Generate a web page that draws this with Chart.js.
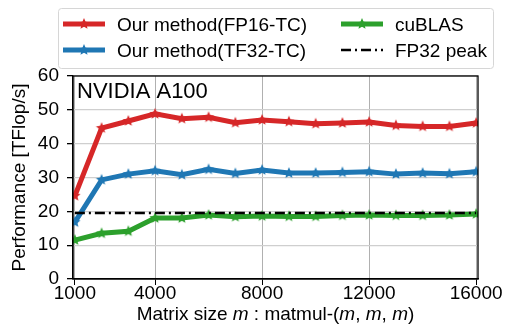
<!DOCTYPE html>
<html>
<head>
<meta charset="utf-8">
<script src="https://cdn.jsdelivr.net/npm/chart.js@4.4.1/dist/chart.umd.min.js"></script>
<style>
  html, body { margin: 0; padding: 0; background: #fff; }
  #wrap { width: 506px; height: 333px; }
</style>
</head>
<body>
<div id="wrap"><canvas id="perfChart" width="506" height="333"></canvas></div>
<script>
// matrix size m (matmul m x m x m)
const sizes = [1000, 2000, 3000, 4000, 5000, 6000, 7000, 8000, 9000, 10000, 11000, 12000, 13000, 14000, 15000, 16000];
// TFlop/s
const fp16tc = [24.6, 44.6, 46.7, 48.8, 47.4, 47.8, 46.2, 47.0, 46.5, 45.9, 46.1, 46.4, 45.4, 45.1, 45.1, 46.1];
const tf32tc = [16.8, 29.3, 31.0, 32.0, 30.8, 32.4, 31.2, 32.2, 31.3, 31.3, 31.5, 31.7, 31.0, 31.3, 31.1, 31.7];
const cublas = [11.5, 13.5, 14.1, 18.0, 18.0, 18.9, 18.4, 18.6, 18.5, 18.5, 18.8, 18.9, 18.8, 18.8, 18.9, 19.2];
const fp32Peak = 19.5;
const xTicks = [1000, 4000, 8000, 12000, 16000];
const yTicks = [0, 10, 20, 30, 40, 50, 60];

const FONT = "'Liberation Sans', Arial, sans-serif";
Chart.defaults.font.family = FONT;
Chart.defaults.color = '#000';

// filled 5-point star marker, like matplotlib '*'
function starMarker(color, r) {
  const c = document.createElement('canvas');
  const s = Math.ceil(r * 2 + 2);
  c.width = s; c.height = s;
  const g = c.getContext('2d');
  g.beginPath();
  for (let i = 0; i < 10; i++) {
    const rad = i % 2 === 0 ? r : r * 0.45;
    const a = -Math.PI / 2 + i * Math.PI / 5;
    const px = s / 2 + rad * Math.cos(a), py = s / 2 + rad * Math.sin(a);
    if (i === 0) g.moveTo(px, py); else g.lineTo(px, py);
  }
  g.closePath();
  g.fillStyle = color;
  g.fill();
  return c;
}

const red = '#d62728', blue = '#1f77b4', green = '#2ca02c';

function series(label, ys, color, order) {
  return {
    label: label,
    data: sizes.map((m, i) => ({ x: m, y: ys[i] })),
    borderColor: color,
    backgroundColor: color,
    borderWidth: 5,
    pointStyle: starMarker(color, 6),
    pointRadius: 6,
    tension: 0,
    order: order
  };
}

const datasets = [
  series('Our method(FP16-TC)', fp16tc, red, 3),
  series('Our method(TF32-TC)', tf32tc, blue, 2),
  series('cuBLAS', cublas, green, 1),
  {
    label: 'FP32 peak',
    data: [{ x: sizes[0], y: fp32Peak }, { x: sizes[sizes.length - 1], y: fp32Peak }],
    borderColor: '#000',
    borderWidth: 2.4,
    borderDash: [10, 4, 2, 4],
    pointRadius: 0,
    order: 0
  }
];

// two-column legend in a rounded box (matplotlib style)
const legendBox = {
  id: 'legendBox',
  afterDraw(chart) {
    const g = chart.ctx;
    g.save();
    g.strokeStyle = '#d6d6d6';
    g.lineWidth = 1;
    g.fillStyle = 'rgba(255,255,255,0.9)';
    g.beginPath();
    g.roundRect(58.5, 8.5, 435, 60, 3);
    g.fill();
    g.stroke();
    const slots = [
      [0, 63, 24], [1, 63, 50], [2, 341, 24], [3, 341, 50]
    ];
    g.font = '19px ' + FONT;
    g.textBaseline = 'alphabetic';
    g.textAlign = 'left';
    slots.forEach(([i, x, y]) => {
      const ds = chart.data.datasets[i];
      g.strokeStyle = ds.borderColor;
      g.lineWidth = ds.borderWidth;
      g.setLineDash(ds.borderDash || []);
      g.beginPath();
      g.moveTo(x, y); g.lineTo(x + 42, y);
      g.stroke();
      g.setLineDash([]);
      if (ds.pointRadius) {
        const m = ds.pointStyle;
        g.drawImage(m, x + 21 - m.width / 2, y - m.height / 2);
      }
      g.fillStyle = '#000';
      g.fillText(ds.label, x + 54, y + 7);
    });
    g.restore();
  }
};

// full frame, panel label and x title with italic m
const extras = {
  id: 'extras',
  afterDatasetsDraw(chart) {
    const a = chart.chartArea, g = chart.ctx;
    g.save();
    g.strokeStyle = '#000';
    g.lineWidth = 1.3;
    g.strokeRect(a.left, a.top, a.right - a.left, a.bottom - a.top);
    g.fillStyle = '#000';
    g.textBaseline = 'alphabetic';
    g.font = '22px ' + FONT;
    g.fillText('NVIDIA A100', a.left + 4, 98);

    const parts = [
      ['Matrix size ', false], ['m', true], [' : matmul-(', false], ['m', true],
      [', ', false], ['m', true], [', ', false], ['m', true], [')', false]
    ];
    const fnt = it => (it ? 'italic ' : '') + '19px ' + FONT;
    let w = 0;
    parts.forEach(([t, it]) => { g.font = fnt(it); w += g.measureText(t).width; });
    let x = (a.left + a.right) / 2 - w / 2;
    g.textAlign = 'left';
    parts.forEach(([t, it]) => {
      g.font = fnt(it);
      g.fillText(t, x, 320);
      x += g.measureText(t).width;
    });
    g.restore();
  }
};

new Chart(document.getElementById('perfChart'), {
  type: 'line',
  data: { datasets: datasets },
  options: {
    responsive: false,
    animation: false,
    layout: { padding: { top: 76, right: 28, left: 0, bottom: 0 } },
    plugins: { legend: { display: false }, tooltip: { enabled: false } },
    scales: {
      x: {
        type: 'linear',
        min: 930,
        max: 16070,
        afterBuildTicks: s => { s.ticks = xTicks.map(v => ({ value: v })); },
        afterFit: s => { s.height = 54; },
        ticks: { font: { size: 19 }, padding: -3, maxRotation: 0, autoSkip: false, callback: v => String(v) },
        grid: { color: '#b0b0b0', lineWidth: 1, tickLength: 6, tickColor: '#000' },
        border: { color: '#000', width: 1.3 }
      },
      y: {
        min: 0,
        max: 60,
        afterBuildTicks: s => { s.ticks = yTicks.map(v => ({ value: v })); },
        afterFit: s => { s.width = 73; },
        ticks: { font: { size: 19 }, padding: 8, callback: v => String(v) },
        grid: { color: '#cfcfcf', lineWidth: 1.3, tickLength: 6, tickColor: '#000' },
        border: { color: '#000', width: 1.3 },
        title: { display: true, text: 'Performance [TFlop/s]', font: { size: 19 }, padding: { top: 8, bottom: 0 } }
      }
    }
  },
  plugins: [legendBox, extras]
});
</script>
</body>
</html>
